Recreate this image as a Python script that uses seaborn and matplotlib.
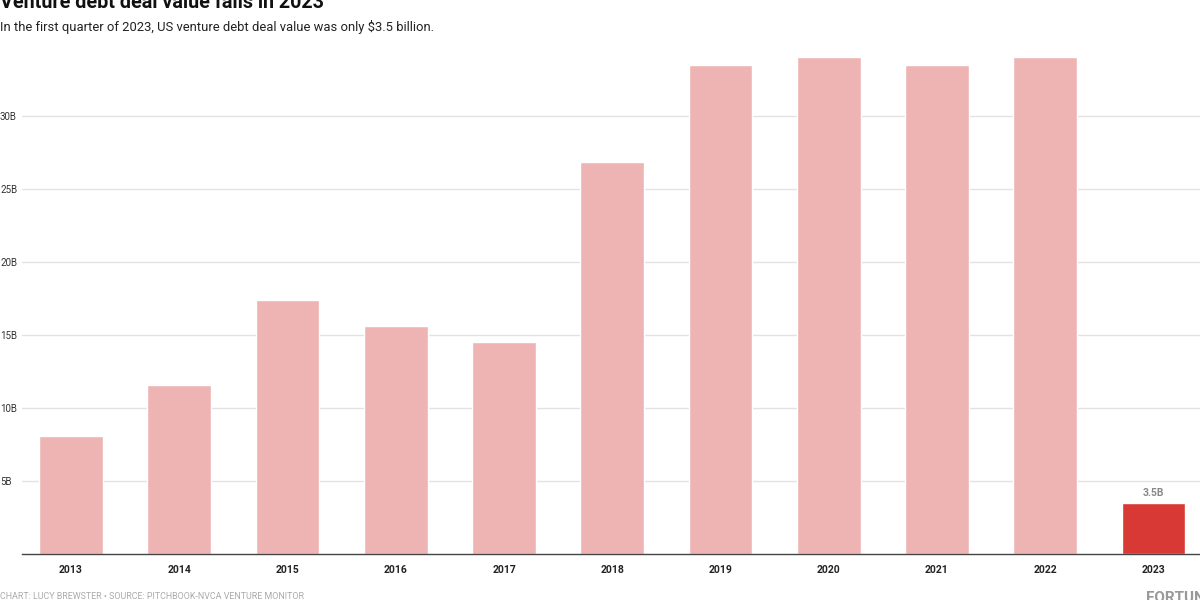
import matplotlib
matplotlib.use("Agg")
import matplotlib.pyplot as plt
import seaborn as sns
import pandas as pd

years = ["2013", "2014", "2015", "2016", "2017", "2018", "2019", "2020", "2021", "2022", "2023"]
deal_value = [8.1, 11.6, 17.4, 15.6, 14.5, 26.8, 33.5, 34.0, 33.5, 34.0, 3.5]
y_ticks = [5, 10, 15, 20, 25, 30]
y_tick_labels = ["5B", "10B", "15B", "20B", "25B", "30B"]

title = "Venture debt deal value falls in 2023"
subtitle = "In the first quarter of 2023, US venture debt deal value was only $3.5 billion."
footer = "CHART: LUCY BREWSTER \u2022 SOURCE: PITCHBOOK-NVCA VENTURE MONITOR"

pale = "#eeb4b4"
red = "#d93934"

sns.set_theme(style="white")
plt.rcParams["font.family"] = ["Roboto", "DejaVu Sans"]

df = pd.DataFrame({"year": years, "value": deal_value})
colors = [red if y == "2023" else pale for y in years]

fig = plt.figure(figsize=(12, 6), dpi=100)
ax = fig.add_axes([22 / 1200, 46 / 600, 1178 / 1200, 504 / 600])

sns.barplot(data=df, x="year", y="value", hue="year", palette=colors,
            legend=False, width=0.59, saturation=1, ax=ax)

ax.set_xlim(-0.453, 10.43)
ax.set_ylim(0, 34.5)
ax.set_yticks(y_ticks)
ax.set_yticklabels(y_tick_labels, ha="left", fontsize=7, color="#333333")
ax.tick_params(axis="y", length=0, pad=15.8)
ax.tick_params(axis="x", length=0, pad=8, labelsize=7.5, labelcolor="#222222")
for lbl in ax.get_xticklabels():
    lbl.set_fontweight("bold")
ax.yaxis.grid(True, color="#e2e2e2", linewidth=1)
ax.set_axisbelow(True)
ax.set_xlabel("")
ax.set_ylabel("")
for side in ["top", "right", "left"]:
    ax.spines[side].set_visible(False)
ax.spines["bottom"].set_color("#444444")
ax.spines["bottom"].set_linewidth(1)

# value label on the last bar
last = len(years) - 1
ax.annotate(f"{deal_value[last]}B", (last, deal_value[last]), xytext=(0, 3.5),
            textcoords="offset points", ha="center", va="bottom",
            fontsize=7.5, fontweight="bold", color="#888888")

# title sits partly above the top edge, as in the source image
fig.text(0.0, 1 - 8 / 600, title, fontsize=14.2, fontweight="bold",
         color="#111111", ha="left", va="baseline")
fig.text(0.0, 1 - 31 / 600, subtitle, fontsize=9.4, color="#222222",
         ha="left", va="baseline")
fig.text(0.0, 1 - 599 / 600, footer, fontsize=6.4, color="#aaaaaa",
         ha="left", va="baseline")
fig.text(1146 / 1200, 1 - 602 / 600, "FORTUNE", fontsize=11, fontweight="bold",
         color="#999999", ha="left", va="baseline")

fig.savefig("out.png", dpi=100)
